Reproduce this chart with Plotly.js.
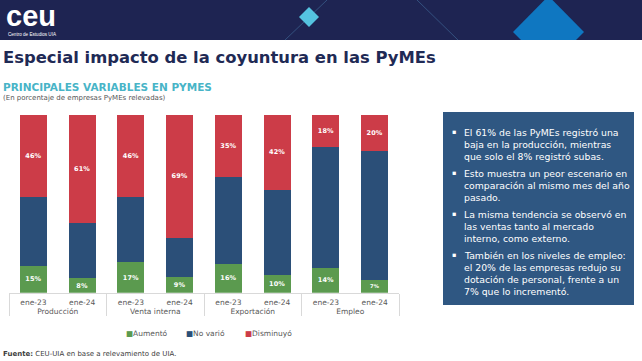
<!DOCTYPE html>
<html><head><meta charset="utf-8">
<script src="https://cdn.plot.ly/plotly-3.0.1.min.js"></script>
<style>html,body{margin:0;padding:0;background:#fff;}#chart{width:642px;height:361px;}</style>
</head><body><div id="chart"></div>
<script>
// ---- data ----
const groups = ['Producción','Producción','Venta interna','Venta interna','Exportación','Exportación','Empleo','Empleo'];
const periods = ['ene-23','ene-24','ene-23','ene-24','ene-23','ene-24','ene-23','ene-24'];
const aumento = [15, 8, 17, 9, 16, 10, 14, 7];
const novario = [39, 31, 37, 22, 49, 48, 68, 73];
const disminuyo = [46, 61, 46, 69, 35, 42, 18, 20];
const seriesNames = ['Aumentó', 'No varió', 'Disminuyó'];
const bulletParas = [
  ['El 61% de las PyMEs registró una', 'baja en la producción, mientras', 'que solo el 8% registró subas.'],
  ['Esto muestra un peor escenario en', 'comparación al mismo mes del año', 'pasado.'],
  ['La misma tendencia se observó en', 'las ventas tanto al mercado', 'interno, como externo.'],
  ['También en los niveles de empleo:', 'el 20% de las empresas redujo su', 'dotación de personal, frente a un', '7% que lo incrementó.']
];

// ---- helpers ----
const W = 642, H = 361;
const px = x => x / W, py = y => 1 - y / H;
const FONT = 'DejaVu Sans, Verdana, sans-serif';
const NARROW = 'Liberation Sans Narrow, Liberation Sans, Arial, sans-serif';
const COLORS = ['#5b9a4f', '#2b4f78', '#cc3c48'];

const barText = {family: FONT, size: 6.5, color: '#ffffff', weight: 'bold'};
const traces = [
  {type: 'bar', name: seriesNames[0], x: [groups, periods], y: aumento, marker: {color: COLORS[0]},
   texttemplate: '%{y}%', textposition: 'inside', insidetextanchor: 'middle', textfont: barText,
   showlegend: false, hoverinfo: 'skip'},
  {type: 'bar', name: seriesNames[1], x: [groups, periods], y: novario, marker: {color: COLORS[1]},
   textposition: 'none', showlegend: false, hoverinfo: 'skip'},
  {type: 'bar', name: seriesNames[2], x: [groups, periods], y: disminuyo, marker: {color: COLORS[2]},
   texttemplate: '%{y}%', textposition: 'inside', insidetextanchor: 'middle', textfont: barText,
   showlegend: false, hoverinfo: 'skip'}
];

const shapes = [
  {type: 'rect', xref: 'paper', yref: 'paper', x0: 0, x1: 1, y0: py(40), y1: 1, fillcolor: '#1e2452', line: {width: 0}, layer: 'below'},
  {type: 'line', xref: 'paper', yref: 'paper', x0: px(285), y0: py(40), x1: px(327), y1: py(0), line: {color: '#34517f', width: 1}},
  {type: 'line', xref: 'paper', yref: 'paper', x0: px(417), y0: py(0), x1: px(458), y1: py(40), line: {color: '#34517f', width: 1}},
  {type: 'path', xref: 'paper', yref: 'paper',
   path: `M${px(309)},${py(7)} L${px(319)},${py(17)} L${px(309)},${py(27)} L${px(299)},${py(17)} Z`,
   fillcolor: '#55c3e0', line: {width: 0}},
  {type: 'path', xref: 'paper', yref: 'paper',
   path: `M${px(548.5)},${py(-4)} L${px(584)},${py(32)} L${px(576)},${py(40)} L${px(521)},${py(40)} L${px(513)},${py(32)} Z`,
   fillcolor: '#0f77c1', line: {width: 0}},
  {type: 'rect', xref: 'paper', yref: 'paper', x0: px(443), x1: px(634), y0: py(305), y1: py(112), fillcolor: '#2f5782', line: {width: 0}, layer: 'below'}
];

const annotations = [];
function txt(text, x, y, size, color, family) {
  annotations.push({xref: 'paper', yref: 'paper', x: px(x), y: py(y), text: text,
    showarrow: false, xanchor: 'left', yanchor: 'middle', align: 'left',
    font: {family: family || FONT, size: size, color: color}});
}
// logo
txt('<b>ceu</b>', 4, 16, 29, '#ffffff', NARROW);
txt('Centro de Estudios UIA', 6, 35, 4.6, '#ffffff', NARROW);
// titles
txt('<b>Especial impacto de la coyuntura en las PyMEs</b>', 1, 57, 16.4, '#1f2a55');
txt('<b>PRINCIPALES VARIABLES EN PYMES</b>', 1, 87, 10.5, '#48b4c7');
txt('(En porcentaje de empresas PyMEs relevadas)', 1, 98, 7, '#555555');
// footer
txt('<b>Fuente:</b> CEU-UIA en base a relevamiento de UIA.', 1, 354, 7, '#404040');
// legend (manual)
const legX = [124, 184, 243];
seriesNames.forEach((n, i) => {
  txt(`<span style="color:${COLORS[i]}">■</span>${n}`, legX[i], 333, 7.5, '#595959');
});
// bullet text
let yy = 132;
bulletParas.forEach(p => {
  txt('▪', 450, yy, 6.5, '#ffffff');
  p.forEach(line => { txt(line, 462, yy, 9.3, '#ffffff'); yy += 12; });
  yy += 5;
});

const layout = {
  width: W, height: H,
  margin: {l: 0, r: 0, t: 0, b: 0},
  paper_bgcolor: '#ffffff', plot_bgcolor: 'rgba(0,0,0,0)',
  barmode: 'stack', bargap: 0.45,
  showlegend: false,
  xaxis: {type: 'multicategory', domain: [px(9), px(399)], showline: true, linecolor: '#d9d9d9', linewidth: 1,
    showdividers: true, dividercolor: '#d9d9d9', dividerwidth: 1, ticks: '', showgrid: false,
    ticklabelstandoff: 2,
    tickfont: {family: FONT, size: 7.5, color: '#595959'}, fixedrange: true},
  yaxis: {domain: [py(292.7), py(115)], range: [0, 100], visible: false, fixedrange: true},
  shapes: shapes,
  annotations: annotations
};

Plotly.newPlot('chart', traces, layout, {displayModeBar: false, staticPlot: true});
</script>
</body></html>
